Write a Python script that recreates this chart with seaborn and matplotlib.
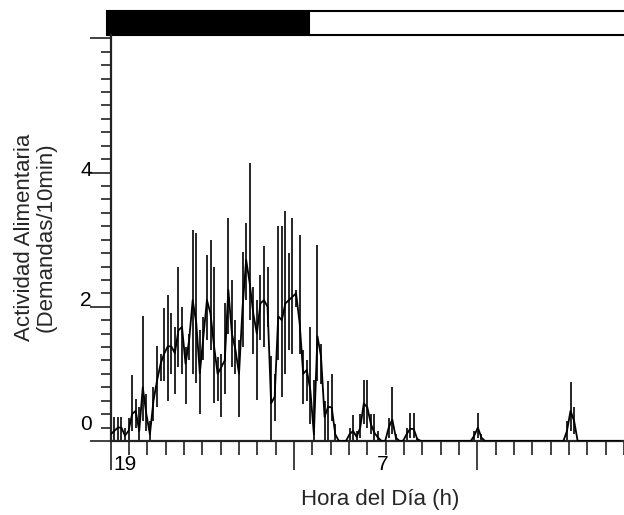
import numpy as np
import pandas as pd
import matplotlib
matplotlib.use("Agg")
import matplotlib.pyplot as plt
import seaborn as sns
from matplotlib.patches import Rectangle
from matplotlib import font_manager as fm

# ---------------- data (10-min bins, starting at 19 h) ----------------
mean_vals = [0.10, 0.15, 0.20, 0.20, 0.08, 0.15, 0.40, 0.45, 0.15, 0.80,
             0.40, 0.10, 0.60, 0.90, 1.15, 1.30, 1.41, 1.41, 1.31, 1.65,
             1.70, 1.15, 1.50, 2.10, 1.76, 1.01, 1.55, 2.10, 1.90, 1.41,
             1.00, 1.10, 1.20, 2.25, 1.60, 1.36, 1.00, 2.00, 2.70, 2.35,
             1.90, 1.60, 2.05, 2.10, 2.00, 0.56, 0.66, 1.86, 1.80, 2.05,
             2.10, 2.15, 2.20, 1.76, 1.00, 1.06, 0.76, 0.10, 1.56, 1.26,
             0.36, 0.51, 0.50, 0.10, 0.00, 0.00, 0.00, 0.10, 0.15, 0.06,
             0.20, 0.56, 0.50, 0.25, 0.12, 0.05, 0.00, 0.00, 0.20, 0.32,
             0.05, 0.00, 0.00, 0.10, 0.18, 0.18, 0.03, 0.00, 0.00, 0.00,
             0.00, 0.00, 0.00, 0.00, 0.00, 0.00, 0.00, 0.00, 0.00, 0.00,
             0.00, 0.00, 0.08, 0.20, 0.05, 0.00, 0.00, 0.00, 0.00, 0.00,
             0.00, 0.00, 0.00, 0.00, 0.00, 0.00, 0.00, 0.00, 0.00, 0.00,
             0.00, 0.00, 0.00, 0.00, 0.00, 0.00, 0.00, 0.00, 0.15, 0.45,
             0.30, 0.00, 0.00, 0.00, 0.00, 0.00, 0.00, 0.00, 0.00, 0.00,
             0.00, 0.00, 0.00, 0.00]
upper_vals = [0.20, 0.36, 0.36, 0.36, 0.20, 0.35, 0.98, 0.63, 0.50, 1.86,
              0.70, 0.30, 0.80, 1.42, 1.30, 1.98, 2.17, 1.90, 1.70, 2.60,
              2.00, 1.40, 1.60, 3.15, 3.10, 1.65, 1.85, 2.77, 2.99, 2.60,
              1.25, 1.30, 2.05, 3.32, 2.40, 1.80, 1.50, 2.82, 3.25, 4.14,
              2.30, 2.10, 2.48, 2.90, 2.60, 1.26, 1.00, 3.20, 3.20, 3.42,
              2.80, 3.33, 2.25, 3.07, 1.35, 1.20, 1.70, 0.91, 2.92, 1.45,
              0.60, 0.90, 1.00, 0.25, 0.00, 0.00, 0.00, 0.20, 0.38, 0.15,
              0.40, 0.91, 0.91, 0.40, 0.40, 0.15, 0.00, 0.00, 0.35, 0.81,
              0.10, 0.00, 0.00, 0.20, 0.41, 0.41, 0.05, 0.00, 0.00, 0.00,
              0.00, 0.00, 0.00, 0.00, 0.00, 0.00, 0.00, 0.00, 0.00, 0.00,
              0.00, 0.00, 0.15, 0.42, 0.10, 0.00, 0.00, 0.00, 0.00, 0.00,
              0.00, 0.00, 0.00, 0.00, 0.00, 0.00, 0.00, 0.00, 0.00, 0.00,
              0.00, 0.00, 0.00, 0.00, 0.00, 0.00, 0.00, 0.00, 0.30, 0.88,
              0.50, 0.00, 0.00, 0.00, 0.00, 0.00, 0.00, 0.00, 0.00, 0.00,
              0.00, 0.00, 0.00, 0.00]
lower_vals = [0.00, 0.00, 0.00, 0.00, 0.00, 0.00, 0.15, 0.20, 0.00, 0.30,
              0.15, 0.00, 0.30, 0.50, 0.90, 0.90, 0.60, 1.00, 0.70, 1.10,
              1.00, 0.55, 1.20, 1.00, 0.86, 0.40, 1.20, 1.50, 1.35, 0.56,
              0.60, 0.36, 0.70, 1.60, 1.10, 1.00, 0.36, 1.40, 2.10, 1.80,
              1.30, 0.61, 1.50, 1.40, 1.70, 0.00, 0.30, 1.20, 0.66, 1.00,
              1.35, 1.30, 2.00, 1.30, 0.55, 0.60, 0.26, 0.00, 0.90, 0.85,
              0.00, 0.00, 0.30, 0.00, 0.00, 0.00, 0.00, 0.00, 0.00, 0.00,
              0.05, 0.25, 0.20, 0.10, 0.00, 0.00, 0.00, 0.00, 0.05, 0.10,
              0.00, 0.00, 0.00, 0.00, 0.05, 0.05, 0.00, 0.00, 0.00, 0.00,
              0.00, 0.00, 0.00, 0.00, 0.00, 0.00, 0.00, 0.00, 0.00, 0.00,
              0.00, 0.00, 0.00, 0.05, 0.00, 0.00, 0.00, 0.00, 0.00, 0.00,
              0.00, 0.00, 0.00, 0.00, 0.00, 0.00, 0.00, 0.00, 0.00, 0.00,
              0.00, 0.00, 0.00, 0.00, 0.00, 0.00, 0.00, 0.00, 0.00, 0.15,
              0.10, 0.00, 0.00, 0.00, 0.00, 0.00, 0.00, 0.00, 0.00, 0.00,
              0.00, 0.00, 0.00, 0.00]
bin_hours = np.arange(len(mean_vals)) / 6.0   # hours after 19 h

xtick_label_pos = [0, 12]
xtick_labels = ["19", "7"]
ytick_vals = [0, 2, 4]
ytick_labels = ["0", "2", "4"]
dark_phase = (-0.15, 9.27)
light_phase = (9.27, 24.6)

df = pd.DataFrame({"hour": bin_hours, "mean": mean_vals,
                   "low": lower_vals, "up": upper_vals})

# ---------------- style ----------------
sns.set_theme(style="ticks")
names = {f.name for f in fm.fontManager.ttflist}
if "Liberation Sans Narrow" in names:
    fam = ["Liberation Sans Narrow", "DejaVu Sans"]
    lab_fs, tick_fs = 18.5, 16
else:
    fam = ["Liberation Sans", "DejaVu Sans"]
    lab_fs, tick_fs = 16, 15
plt.rcParams["font.family"] = fam

fig = plt.figure(figsize=(6.24, 5.15), dpi=100)
ax = fig.add_axes([110.7 / 624, (515 - 441) / 515, 1 - 110.7 / 624, (441 - 35) / 515])

ax.vlines(df["hour"], df["low"], df["up"], color="#262626", lw=1.4, zorder=2)
sns.lineplot(data=df, x="hour", y="mean", color="black", lw=1.3, ax=ax, zorder=3)
ax.set_xlabel("")
ax.set_ylabel("")

ax.set_xlim(0, 24)
ax.set_ylim(0, 6.05)

# x ticks
minor_x = np.arange(29) * 24 / 28
major_x = minor_x[::10]
ax.set_xticks(major_x)
ax.set_xticklabels([""] * len(major_x))
ax.set_xticks(minor_x, minor=True)
# y ticks
ax.set_yticks([0, 2, 4, 6])
ax.set_yticklabels([""] * 4)
ax.set_yticks(np.arange(0, 6.01, 0.2), minor=True)

ax.tick_params(axis="x", which="major", length=21, width=1.3, color="#333333", direction="out")
ax.tick_params(axis="x", which="minor", length=10, width=1.3, color="#333333", direction="out")
ax.tick_params(axis="y", which="major", length=15, width=1.3, color="#333333", direction="out")
ax.tick_params(axis="y", which="minor", length=7, width=1.3, color="#333333", direction="out")

for s in ["top", "right"]:
    ax.spines[s].set_visible(False)
for s in ["left", "bottom"]:
    ax.spines[s].set_linewidth(1.6)
    ax.spines[s].set_color("#222222")

# tick label texts
x_off = [3, 9.5]
for pos, lab, dx in zip(xtick_label_pos, xtick_labels, x_off):
    ax.annotate(lab, xy=(pos, 0), xycoords=("data", "axes fraction"),
                xytext=(dx, -14), textcoords="offset pixels",
                ha="left", va="top", fontsize=tick_fs, color="black")
y_off = [16, 6, 2]
for v, lab, dy in zip(ytick_vals, ytick_labels, y_off):
    ax.annotate(lab, xy=(0, v), xycoords=("axes fraction", "data"),
                xytext=(-19, dy), textcoords="offset pixels",
                ha="right", va="center", fontsize=tick_fs, color="black")

# axis labels
fig.text(380 / 624, 1 - 500 / 515, "Hora del Día (h)", ha="center", va="center",
         fontsize=lab_fs)
fig.text(35 / 624, 1 - 237 / 515, "Actividad Alimentaria\n(Demandas/10min)",
         ha="center", va="center", rotation=90, fontsize=lab_fs, linespacing=1.05)

# light / dark bar
bar_h = 24 / 406
ax.add_patch(Rectangle((dark_phase[0], 1.0), dark_phase[1] - dark_phase[0], bar_h,
                       transform=ax.get_xaxis_transform(), facecolor="black",
                       edgecolor="black", lw=1.5, clip_on=False))
ax.add_patch(Rectangle((light_phase[0], 1.0), light_phase[1] - light_phase[0], bar_h,
                       transform=ax.get_xaxis_transform(), facecolor="white",
                       edgecolor="black", lw=1.5, clip_on=False))

fig.savefig("out.png", dpi=100)
